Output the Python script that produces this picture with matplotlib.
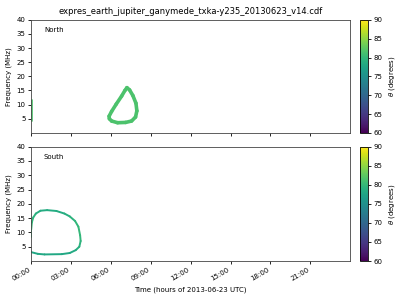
import datetime as dt
import numpy as np
import matplotlib
matplotlib.use('Agg')
import matplotlib.pyplot as plt
import matplotlib.dates as mdates
from matplotlib.collections import LineCollection

# Emission contours (time in hours, frequency in MHz, theta in degrees)
north_t = [6.50, 6.05, 5.88, 5.86, 6.05, 6.40, 6.80, 7.05, 7.20, 7.40, 7.65, 7.88, 7.95, 7.85, 7.55, 7.10, 6.50]
north_f = [3.6, 4.2, 5.0, 5.9, 7.6, 10.2, 13.0, 15.0, 16.0, 15.2, 13.2, 10.5, 7.8, 5.6, 4.2, 3.7, 3.6]
north_theta = [81.5] * len(north_t)

north_edge_t = [0.03, 0.03]
north_edge_f = [4.2, 11.5]
north_edge_theta = [81.5, 81.5]

south_t = [0.00, 0.00, 0.05, 0.15, 0.35, 0.70, 1.20, 1.90, 2.50, 2.90, 3.30, 3.55, 3.68, 3.72,
           3.62, 3.35, 2.90, 2.30, 1.00, 0.50, 0.00]
south_f = [8.5, 11.0, 13.5, 15.2, 16.6, 17.6, 17.8, 17.5, 16.6, 15.6, 14.0, 12.0, 9.0, 7.0,
           5.0, 3.8, 2.8, 2.4, 2.3, 2.5, 3.1]
south_theta = [80.5, 80.5, 80.0, 79.5, 79.0, 78.5, 78.5, 78.5, 78.5, 79.0, 79.5, 80.0, 80.0, 79.5,
               79.0, 78.5, 78.0, 78.0, 78.0, 78.0, 78.0]

title = 'expres_earth_jupiter_ganymede_txka-y235_20130623_v14.cdf'
day = dt.datetime(2013, 6, 23)

cmap = plt.get_cmap('viridis')
norm = matplotlib.colors.Normalize(vmin=60, vmax=90)


def to_num(hours):
    return [mdates.date2num(day + dt.timedelta(hours=h)) for h in hours]


def add_track(ax, t, f, theta, lw):
    pts = np.column_stack([to_num(t), f])
    segs = [[pts[i], pts[i + 1]] for i in range(len(pts) - 1)]
    vals = [(theta[i] + theta[i + 1]) / 2 for i in range(len(pts) - 1)]
    lc = LineCollection(segs, cmap=cmap, norm=norm, linewidths=lw, capstyle='round')
    lc.set_array(np.array(vals))
    ax.add_collection(lc)


fig = plt.figure(figsize=(4, 3), dpi=100)
ax1 = fig.add_axes([0.078, 0.557, 0.797, 0.377])
ax2 = fig.add_axes([0.078, 0.130, 0.797, 0.381], sharex=ax1)
cax1 = fig.add_axes([0.900, 0.557, 0.019, 0.377])
cax2 = fig.add_axes([0.900, 0.130, 0.019, 0.381])

add_track(ax1, north_t, north_f, north_theta, 2.6)
add_track(ax1, north_edge_t, north_edge_f, north_edge_theta, 1.2)
add_track(ax2, south_t, south_f, south_theta, 1.4)

fs = 5
for ax, name, cax in [(ax1, 'North', cax1), (ax2, 'South', cax2)]:
    ax.set_ylim(0, 40)
    ax.set_yticks([5, 10, 15, 20, 25, 30, 35, 40])
    ax.set_ylabel('Frequency (MHz)', fontsize=fs, labelpad=3)
    ax.tick_params(labelsize=fs, length=2.2, width=0.6, pad=2)
    for s in ax.spines.values():
        s.set_linewidth(0.6)
        s.set_color('#444444')
    ax.text(0.04, 0.91, name, transform=ax.transAxes, fontsize=fs, va='center')
    sm = matplotlib.cm.ScalarMappable(norm=norm, cmap=cmap)
    cb = fig.colorbar(sm, cax=cax)
    cb.set_ticks([60, 65, 70, 75, 80, 85, 90])
    cb.ax.tick_params(labelsize=fs, length=2.2, width=0.6, pad=2)
    cb.outline.set_linewidth(0.6)
    cb.set_label(r'$\theta$ (degrees)', fontsize=fs, labelpad=3)

ax1.set_xlim(mdates.date2num(day), mdates.date2num(day + dt.timedelta(hours=23, minutes=59)))
ax2.xaxis.set_major_locator(mdates.HourLocator(byhour=range(0, 24, 3)))
ax2.xaxis.set_major_formatter(mdates.DateFormatter('%H:%M'))
plt.setp(ax1.get_xticklabels(), visible=False)
for lab in ax2.get_xticklabels():
    lab.set_rotation(30)
    lab.set_ha('right')
ax2.set_xlabel('Time (hours of 2013-06-23 UTC)', fontsize=fs, labelpad=3)
ax1.set_title(title, fontsize=6, pad=4)

fig.savefig('out.png', dpi=100)
